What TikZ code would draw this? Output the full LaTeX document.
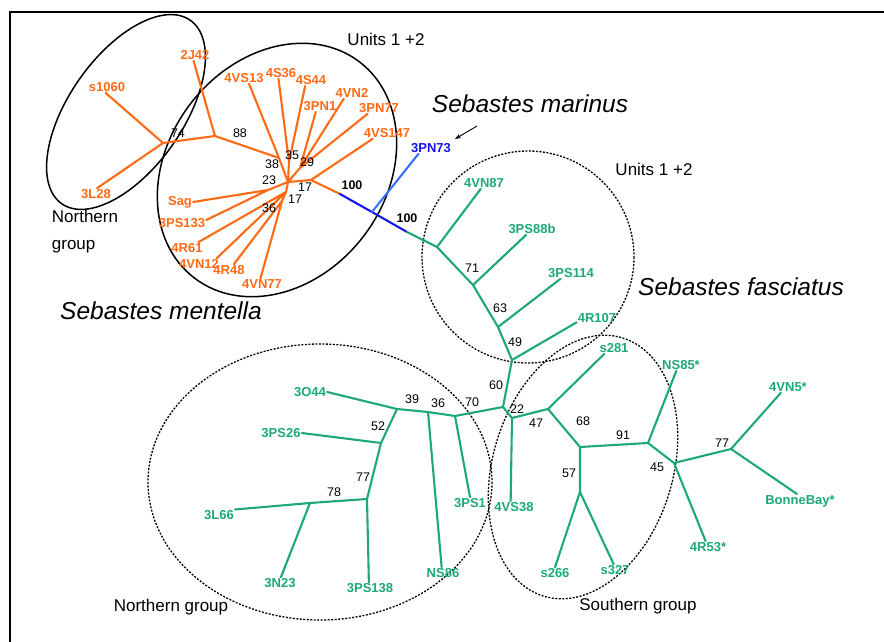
\documentclass[tikz,border=0pt]{standalone}
\usepackage{fontspec}
\setmainfont{Liberation Sans}
\usetikzlibrary{arrows.meta}
\definecolor{mentellaorange}{RGB}{255,106,20}
\definecolor{marinusblue}{RGB}{20,20,235}
\definecolor{marinuslight}{RGB}{60,110,255}
\definecolor{fasciatusgreen}{RGB}{28,168,122}

\begin{document}
\begin{tikzpicture}[x=1pt, y=-1pt,
    leaf/.style={font=\bfseries\fontsize{13}{14}\selectfont, inner sep=1pt},
    orangeleaf/.style={leaf, text=mentellaorange},
    greenleaf/.style={leaf, text=fasciatusgreen},
    boot/.style={font=\fontsize{12.5}{14}\selectfont, inner sep=0pt},
    grouptext/.style={font=\fontsize{17}{19}\selectfont, inner sep=0pt},
    species/.style={font=\itshape\fontsize{24.5}{26}\selectfont, inner sep=0pt},
    branch/.style={line width=2.1pt, line cap=round},
    solidring/.style={line width=1.5pt},
    dotring/.style={line width=1.3pt, dash pattern=on 2pt off 1.5pt}]
    \useasboundingbox (0,0) rectangle (884,642);

    % frame
    \draw[line width=2pt] (10,642) -- (10,12) -- (884,12);

    % group outlines
    \draw[solidring, rotate around={55:(126,112)}] (126,112) ellipse [x radius=112, y radius=57];
    \draw[solidring, rotate around={52.6:(277,170)}] (277,170) ellipse [x radius=136, y radius=109];
    \draw[dotring] (528,257) circle [radius=106];
    \draw[dotring] (320,482) ellipse [x radius=172, y radius=138];
    \draw[dotring, rotate around={73:(583,467)}] (583,467) ellipse [x radius=135, y radius=90];

    % S. mentella leaves
    \node[orangeleaf] (s1060) at (107,87) {s1060};
    \node[orangeleaf] (3L28) at (96,194) {3L28};
    \node[orangeleaf] (2J42) at (195,55) {2J42};
    \node[orangeleaf] (4VS13) at (244,78) {4VS13};
    \node[orangeleaf] (4S36) at (281,73) {4S36};
    \node[orangeleaf] (4S44) at (311,80) {4S44};
    \node[orangeleaf] (3PN1) at (320,106) {3PN1};
    \node[orangeleaf] (4VN2) at (352,93) {4VN2};
    \node[orangeleaf] (3PN77) at (379,108) {3PN77};
    \node[orangeleaf] (4VS147) at (387,133) {4VS147};
    \node[orangeleaf] (Sag) at (180,202) {Sag};
    \node[orangeleaf] (3PS133) at (182,223) {3PS133};
    \node[orangeleaf] (4R61) at (187,248) {4R61};
    \node[orangeleaf] (4VN12) at (199,264) {4VN12};
    \node[orangeleaf] (4R48) at (229,270) {4R48};
    \node[orangeleaf] (4VN77) at (262,284) {4VN77};
    \node[leaf, text=marinusblue] (3PN73) at (431,148) {3PN73};

    % S. fasciatus leaves
    \node[greenleaf] (4VN87) at (484,183) {4VN87};
    \node[greenleaf] (3PS88b) at (532,229) {3PS88b};
    \node[greenleaf] (3PS114) at (571,273) {3PS114};
    \node[greenleaf] (4R107) at (597,318) {4R107};
    \node[greenleaf] (s281) at (614,348) {s281};
    \node[greenleaf] (NS85) at (681,365) {NS85*};
    \node[greenleaf] (4VN5) at (788,387) {4VN5*};
    \node[greenleaf] (BonneBay) at (800,501) {BonneBay*};
    \node[greenleaf] (4R53) at (708,547) {4R53*};
    \node[greenleaf] (s327) at (615,570) {s327};
    \node[greenleaf] (s266) at (555,573) {s266};
    \node[greenleaf] (4VS38) at (514,507) {4VS38};
    \node[greenleaf] (3PS1) at (470,503) {3PS1};
    \node[greenleaf] (NS86) at (443,573) {NS86};
    \node[greenleaf] (3PS138) at (370,588) {3PS138};
    \node[greenleaf] (3N23) at (280,583) {3N23};
    \node[greenleaf] (3L66) at (219,515) {3L66};
    \node[greenleaf] (3PS26) at (281,433) {3PS26};
    \node[greenleaf] (3O44) at (310,392) {3O44};

    % internal nodes
    \coordinate (o74) at (163,143);
    \coordinate (o88) at (215,136);
    \coordinate (o38) at (279,158);
    \coordinate (o35) at (289,162);
    \coordinate (o29) at (300,168);
    \coordinate (oC) at (288,182);
    \coordinate (o23) at (268,190);
    \coordinate (o17b) at (286,192);
    \coordinate (o36) at (282,201);
    \coordinate (o17a) at (311,180);
    \coordinate (ob) at (340,194);
    \coordinate (b100) at (372,212);
    \coordinate (bg) at (407,232);
    \coordinate (g1) at (437,247);
    \coordinate (g2) at (473,285);
    \coordinate (g3) at (498,327);
    \coordinate (g4) at (512,360);
    \coordinate (g5) at (503,407);
    \coordinate (g6) at (512,418);
    \coordinate (g7) at (548,409);
    \coordinate (g8) at (580,447);
    \coordinate (g9) at (580,492);
    \coordinate (g10) at (648,443);
    \coordinate (g11) at (674,463);
    \coordinate (g12) at (731,449);
    \coordinate (g13) at (455,416);
    \coordinate (g14) at (428,412);
    \coordinate (g15) at (397,409);
    \coordinate (g16) at (381,443);
    \coordinate (g17) at (367,499);
    \coordinate (g18) at (310,503);

    % orange branches
    \draw[branch, mentellaorange] (o74) -- (s1060.256) (o74) -- (3L28.80) (o74) -- (o88)
        (o88) -- (2J42.256) (o88) -- (o38) (o38) -- (4VS13.311) (o38) -- (oC)
        (o35) -- (4S36.247) (o35) -- (4S44.225) (o35) -- (oC)
        (o29) -- (3PN1.234) (o29) -- (4VN2.215) (o29) -- (3PN77.207) (o29) -- (oC)
        (o23) -- (Sag.east) (o23) -- (3PS133.7) (o23) -- (oC)
        (oC) -- (o17b) (o17b) -- (4R61.27) (o17b) -- (4VN12.18) (o17b) -- (o36)
        (o36) -- (4R48.50) (o36) -- (4VN77.105)
        (oC) -- (o17a) (o17a) -- (4VS147.202) (o17a) -- (ob);
    % blue branches
    \draw[branch, marinusblue] (ob) -- (b100) -- (bg);
    \draw[branch, marinuslight] (b100) -- (3PN73.205);
    % green branches
    \draw[branch, fasciatusgreen] (bg) -- (g1) (g1) -- (4VN87.241) (g1) -- (g2)
        (g2) -- (3PS88b.225) (g2) -- (g3) (g3) -- (3PS114.209) (g3) -- (g4)
        (g4) -- (4R107.192) (g4) -- (g5)
        (g5) -- (g6) (g6) -- (4VS38.120) (g6) -- (g7) (g7) -- (s281.211) (g7) -- (g8)
        (g8) -- (g9) (g9) -- (s266.north) (g9) -- (s327.103)
        (g8) -- (g10) (g10) -- (NS85.231) (g10) -- (g11) (g11) -- (4R53.112) (g11) -- (g12)
        (g12) -- (4VN5.219) (g12) -- (BonneBay.113)
        (g5) -- (g13) (g13) -- (3PS1.north) (g13) -- (g14) (g14) -- (NS86.103) (g14) -- (g15)
        (g15) -- (3O44.east) (g15) -- (g16) (g16) -- (3PS26.east) (g16) -- (g17)
        (g17) -- (3PS138.101) (g17) -- (g18) (g18) -- (3L66.19) (g18) -- (3N23.81);

    % bootstrap values
    \node[boot] (bs74) at (178,133) {74};
    \node[boot] (bs88) at (240,133) {88};
    \node[boot] (bs38) at (272,164) {38};
    \node[boot] (bs35) at (292,155) {35};
    \node[boot] (bs29) at (307,162) {29};
    \node[boot] (bs23) at (269,180) {23};
    \node[boot] (bs17a) at (305,187) {17};
    \node[boot] (bs17b) at (295,199) {17};
    \node[boot] (bs36a) at (269,208) {36};
    \node[boot, font=\bfseries\fontsize{12.5}{14}\selectfont] (bs100a) at (352,185) {100};
    \node[boot, font=\bfseries\fontsize{12.5}{14}\selectfont] (bs100b) at (407,218) {100};
    \node[boot] (bs71) at (472,268) {71};
    \node[boot] (bs63) at (500,308) {63};
    \node[boot] (bs49) at (515,342) {49};
    \node[boot] (bs60) at (496,385) {60};
    \node[boot] (bs22) at (517,409) {22};
    \node[boot] (bs47) at (536,423) {47};
    \node[boot] (bs68) at (583,421) {68};
    \node[boot] (bs57) at (569,473) {57};
    \node[boot] (bs91) at (623,435) {91};
    \node[boot] (bs45) at (657,467) {45};
    \node[boot] (bs77a) at (722,443) {77};
    \node[boot] (bs70) at (472,402) {70};
    \node[boot] (bs36b) at (438,403) {36};
    \node[boot] (bs39) at (412,399) {39};
    \node[boot] (bs52) at (378,426) {52};
    \node[boot] (bs77b) at (363,477) {77};
    \node[boot] (bs78) at (334,492) {78};

    % group and species names
    \node[grouptext] (units1) at (386,39) {Units 1 +2};
    \node[grouptext] (units2) at (654,169) {Units 1 +2};
    \node[grouptext, align=left, font=\fontsize{17}{27}\selectfont] (northA) at (85,232) {Northern\\group};
    \node[grouptext] (northB) at (171,607) {Northern group};
    \node[grouptext] (southG) at (638,606) {Southern group};
    \node[species] (marinus) at (530,104) {Sebastes marinus};
    \node[species] (fasciatus) at (741,287) {Sebastes fasciatus};
    \node[species] (mentella) at (161,311) {Sebastes mentella};

    % pointer to S. marinus
    \coordinate (arrowtail) at (477,126);
    \coordinate (arrowtip) at (455,139);
    \draw[-{Stealth[length=6pt, width=4.5pt]}, line width=0.9pt] (arrowtail) -- (arrowtip);
\end{tikzpicture}
\end{document}
